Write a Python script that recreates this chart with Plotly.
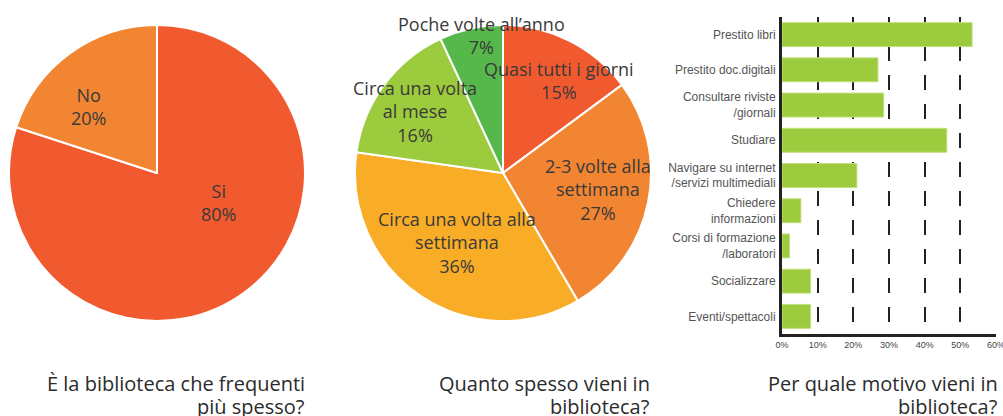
import plotly.graph_objects as go

W, H = 1003, 416

# ---- data ----
pie1_labels = ["Si", "No"]
pie1_values = [80, 20]
pie1_colors = ["#F15A2F", "#F28532"]

pie2_labels = ["Quasi tutti i giorni", "2-3 volte alla settimana", "Circa una volta alla settimana",
               "Circa una volta al mese", "Poche volte all'anno"]
pie2_text = ["Quasi tutti i giorni", "2-3 volte alla<br>settimana", "Circa una volta alla<br>settimana",
             "Circa una volta<br>al mese", "Poche volte all\u2019anno"]
pie2_values = [15, 27, 36, 16, 7]
pie2_colors = ["#F15A2F", "#F28532", "#F9AC25", "#9CCB3D", "#56B84A"]

bar_categories = ["Prestito libri", "Prestito doc.digitali", "Consultare riviste<br>/giornali", "Studiare",
                  "Navigare su internet<br>/servizi multimediali", "Chiedere<br>informazioni",
                  "Corsi di formazione<br>/laboratori", "Socializzare", "Eventi/spettacoli"]
bar_values = [53.3, 26.9, 28.5, 46.2, 21.0, 5.3, 2.1, 8.0, 8.0]
bar_ticks = [0, 10, 20, 30, 40, 50, 60]
bar_ticklabels = ["0%", "10%", "20%", "30%", "40%", "50%", "60%"]

titles = [("\u00C8 la biblioteca che frequenti", "pi\u00F9 spesso?"),
          ("Quanto spesso vieni in", "biblioteca?"),
          ("Per quale motivo vieni in", "biblioteca?")]


def px(x):
    return x / W


def py(y):
    return 1 - y / H


fig = go.Figure()

fig.add_trace(go.Pie(
    labels=pie1_labels, values=pie1_values, sort=False, direction="clockwise", rotation=0,
    marker=dict(colors=pie1_colors, line=dict(color="white", width=2)),
    textinfo="none", hoverinfo="label+percent", showlegend=False,
    domain=dict(x=[px(9), px(305)], y=[py(321), py(25)]),
))
fig.add_trace(go.Pie(
    labels=pie2_labels, values=pie2_values, sort=False, direction="clockwise", rotation=0,
    marker=dict(colors=pie2_colors, line=dict(color="white", width=2)),
    textinfo="none", hoverinfo="label+percent", showlegend=False,
    domain=dict(x=[px(355), px(651)], y=[py(321), py(25)]),
))

fig.add_trace(go.Bar(
    x=bar_values, y=bar_categories, orientation="h",
    marker=dict(color="#9CCB3D", line=dict(color="#C2E07E", width=1)),
    showlegend=False, xaxis="x", yaxis="y",
))

annotations = []
label_font = dict(family="Open Sans, sans-serif", size=18, color="#3a3a3a")

# pie 1 labels
pie1_pos = [(218, 203), (88, 107)]
for lab, val, (x, y) in zip(pie1_labels, pie1_values, pie1_pos):
    annotations.append(dict(x=px(x), y=py(y), xref="paper", yref="paper",
                            text=f"{lab}<br>{val}%", showarrow=False, font=label_font,
                            xanchor="center", yanchor="middle", align="center"))

# pie 2 labels
pie2_pos = [(559, 81), (598, 189), (457, 242), (415, 112), (481, 35)]
for lab, val, (x, y) in zip(pie2_text, pie2_values, pie2_pos):
    annotations.append(dict(x=px(x), y=py(y), xref="paper", yref="paper",
                            text=f"{lab}<br>{val}%", showarrow=False, font=label_font,
                            xanchor="center", yanchor="middle", align="center"))

# titles (right-aligned, two lines)
title_font = dict(family="Open Sans, sans-serif", size=20, color="#2b2b2b")
title_right = [307, 652, 1000]
for (l1, l2), xr in zip(titles, title_right):
    annotations.append(dict(x=px(xr), y=py(383), xref="paper", yref="paper", text=l1,
                            showarrow=False, font=title_font, xanchor="right", yanchor="middle"))
    annotations.append(dict(x=px(xr), y=py(406), xref="paper", yref="paper", text=l2,
                            showarrow=False, font=title_font, xanchor="right", yanchor="middle"))

fig.update_layout(
    width=W, height=H,
    margin=dict(l=0, r=0, t=0, b=0, autoexpand=False),
    paper_bgcolor="white", plot_bgcolor="white",
    bargap=0.32,
    annotations=annotations,
    xaxis=dict(domain=[px(782), px(996)], range=[0, 60], tickvals=bar_ticks, ticktext=bar_ticklabels,
               showgrid=True, gridcolor="#222", gridwidth=2, griddash="15px,14px",
               showline=True, linecolor="#222", linewidth=3, zeroline=False,
               ticks="", ticklabeloverflow="allow", automargin=False,
               tickfont=dict(family="Liberation Sans Narrow, Arial Narrow, sans-serif",
                             size=9, color="#444"),
               fixedrange=True),
    yaxis=dict(domain=[py(334), py(17)], autorange="reversed", showgrid=False,
               showline=True, linecolor="#222", linewidth=3, ticks="", automargin=False,
               tickfont=dict(family="Liberation Sans, Arial, sans-serif", size=12, color="#555"),
               ticklabelstandoff=1, fixedrange=True),
)

fig.write_html("out.html", config={"displayModeBar": False},
               post_script="document.body.style.margin='0';document.body.style.overflow='hidden';")
